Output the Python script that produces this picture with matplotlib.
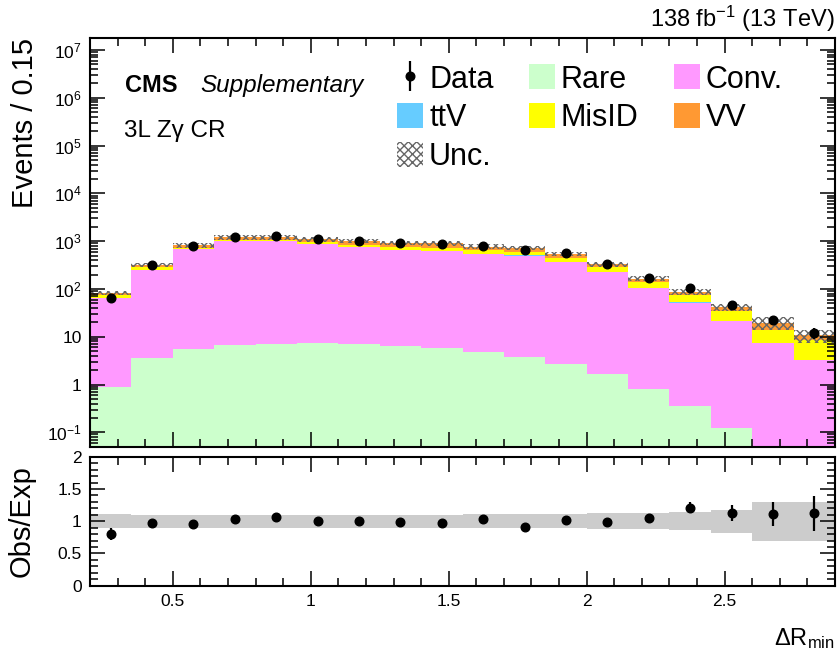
import matplotlib
matplotlib.use("Agg")
import matplotlib.pyplot as plt
import matplotlib.ticker as ticker
from matplotlib.patches import Patch
import numpy as np

plt.rcParams['font.family'] = ['Liberation Sans', 'DejaVu Sans']
plt.rcParams['mathtext.fontset'] = 'custom'
plt.rcParams['mathtext.rm'] = 'Liberation Sans'
plt.rcParams['mathtext.it'] = 'Liberation Sans:italic'
plt.rcParams['mathtext.bf'] = 'Liberation Sans:bold'
plt.rcParams['hatch.linewidth'] = 1.0

# binning: Delta R_min, 0.15 wide bins
edges = np.round(np.arange(0.2, 2.9001, 0.15), 2)

# stacked backgrounds (events / bin), bottom to top
rare = [0.89, 3.6, 5.6, 6.6, 7.0, 7.3, 7.0, 6.4, 5.9, 4.8, 3.8, 2.7, 1.64, 0.79, 0.35, 0.126, 0.0, 0.0]
conv = [64, 243, 674, 1008, 993, 845, 753, 642, 620, 529, 496, 366, 219, 104, 51.6, 21.4, 7.4, 3.2]
ttv = [0.3, 1.2, 3.0, 4.0, 4.0, 3.5, 3.0, 2.5, 2.2, 2.0, 1.6, 1.2, 0.8, 0.4, 0.2, 0.1, 0.05, 0.02]
misid = [11, 42, 42, 46, 46, 84, 62, 97, 97, 102, 78, 77, 60, 35.6, 21.8, 13.1, 6.7, 5.25]
vv = [6, 30, 87, 131, 150, 145, 175, 170, 170, 128, 128, 95, 51, 24, 12, 7, 5.6, 2.2]

data = [66, 310, 773, 1232, 1273, 1085, 1000, 908, 866, 797, 648, 553, 330, 173, 104, 47, 22, 12]
data_err = [7.4, 12, 20, 25, 25, 23, 22, 21, 20, 19, 18, 16, 11, 8, 6.9, 4.9, 3.6, 2.9]

# relative uncertainty of the total prediction
unc_up = [0.11, 0.10, 0.10, 0.10, 0.10, 0.10, 0.10, 0.10, 0.10, 0.11, 0.11, 0.11, 0.12, 0.13, 0.15, 0.17, 0.30, 0.30]
unc_down = [0.11, 0.10, 0.10, 0.10, 0.10, 0.10, 0.10, 0.10, 0.10, 0.10, 0.10, 0.10, 0.12, 0.12, 0.14, 0.18, 0.30, 0.30]

c_rare, c_conv, c_ttv, c_misid, c_vv = '#ccffcc', '#ff99ff', '#66ccff', '#ffff00', '#ff9933'
hatch_col = '#666666'

W, H = 838, 658
fig = plt.figure(figsize=(W/100, H/100), dpi=100)

def box(l, t, r, b):
    return [l/W, 1-b/H, (r-l)/W, (b-t)/H]

ax = fig.add_axes(box(90, 38.3, 835, 446.7))
rax = fig.add_axes(box(90, 456.7, 835, 585.7), sharex=ax)

centers = 0.5*(edges[:-1] + edges[1:])
floor = 1e-3

# cumulative stack, drawn from the top layer down (each filled from the floor)
layers = [(rare, c_rare), (conv, c_conv), (ttv, c_ttv), (misid, c_misid), (vv, c_vv)]
cum = np.cumsum([np.array(v, dtype=float) for v, _ in layers], axis=0)
for i in range(len(layers) - 1, -1, -1):
    ax.stairs(np.maximum(cum[i], floor), edges, baseline=floor,
              fill=True, color=layers[i][1], lw=0, antialiased=False)
total = cum[-1]

up = np.array(unc_up)
dn = np.array(unc_down)
ax.stairs(total*(1+up), edges, baseline=total*(1-dn), fill=True,
          facecolor='none', edgecolor=hatch_col, hatch='xxxx', lw=0)

h_data = ax.errorbar(centers, data, yerr=data_err, fmt='o', color='k', ms=6.2,
                     lw=1.6, capsize=0)

# ratio panel
ratio = np.array(data)/total
ratio_err = np.array(data_err)/total
rax.stairs(1+up, edges, baseline=1-dn, fill=True, color='#cccccc', lw=0, antialiased=False)
rax.errorbar(centers, ratio, yerr=ratio_err, fmt='o', color='k', ms=6.2, lw=1.6, capsize=0)

# axes styling
ax.set_yscale('log')
ax.set_ylim(0.05, 1.75e7)
ax.set_xlim(0.2, 2.9)
rax.set_ylim(0, 2)

def logfmt(v, pos):
    e = int(round(np.log10(v)))
    if e == 0:
        return '1'
    if e == 1:
        return '10'
    return r'$10^{%d}$' % e

y_major = [10.0**e for e in range(-1, 8)]
y_minor = [m * 10.0**e for e in range(-2, 8) for m in range(2, 10)
           if 0.05 <= m * 10.0**e <= 1.75e7]
ax.yaxis.set_major_locator(ticker.FixedLocator(y_major))
ax.yaxis.set_minor_locator(ticker.FixedLocator(y_minor))
ax.yaxis.set_major_formatter(ticker.FuncFormatter(logfmt))
ax.yaxis.set_minor_formatter(ticker.NullFormatter())

x_major = [0.5, 1.0, 1.5, 2.0, 2.5]
x_minor = [v for v in np.round(np.arange(0.2, 2.91, 0.1), 2) if v not in x_major]
r_major = [0.0, 0.5, 1.0, 1.5, 2.0]
r_minor = [v for v in np.round(np.arange(0.0, 2.01, 0.1), 2) if v not in r_major]

ax.xaxis.set_major_locator(ticker.FixedLocator(x_major))
ax.xaxis.set_minor_locator(ticker.FixedLocator(x_minor))
rax.xaxis.set_major_formatter(ticker.FormatStrFormatter('%g'))
rax.yaxis.set_major_locator(ticker.FixedLocator(r_major))
rax.yaxis.set_minor_locator(ticker.FixedLocator(r_minor))
rax.yaxis.set_major_formatter(ticker.FormatStrFormatter('%g'))
rax.yaxis.set_minor_formatter(ticker.NullFormatter())
rax.xaxis.set_minor_formatter(ticker.NullFormatter())
ax.tick_params(axis='x', labelbottom=False)

for a in (ax, rax):
    a.tick_params(which='both', direction='in', top=True, right=True, width=1.1,
                  labelsize=12.5, pad=6)
    a.tick_params(which='major', length=11)
    a.tick_params(which='minor', length=5.5)
    for s in a.spines.values():
        s.set_linewidth(1.5)

# legend
handles = [h_data,
           Patch(facecolor=c_ttv, lw=0),
           Patch(facecolor='white', edgecolor=hatch_col, hatch='xxxx', lw=0),
           Patch(facecolor=c_rare, lw=0),
           Patch(facecolor=c_misid, lw=0),
           Patch(facecolor=c_conv, lw=0),
           Patch(facecolor=c_vv, lw=0)]
labels = ['Data', 'ttV', 'Unc.', 'Rare', 'MisID', 'Conv.', 'VV']
ax.legend(handles, labels, ncol=3, loc='upper left',
          bbox_to_anchor=(397/W, 1-64.5/H), bbox_transform=fig.transFigure,
          frameon=False, fontsize=22, handlelength=0.85, handleheight=0.88,
          handletextpad=0.2, columnspacing=1.15, labelspacing=0.28,
          borderpad=0, borderaxespad=0)

fig.text(125/W, 1-92/H, 'CMS', weight='bold', size=17, ha='left', va='baseline')
fig.text(200/W, 1-92/H, 'Supplementary', style='italic', size=17.5, ha='left', va='baseline')
fig.text(124/W, 1-136.7/H, '3L Z\u03b3 CR', size=17.5, ha='left', va='baseline')
fig.text(835/W, 1-26.7/H, r'138 fb$^{-1}$ (13 TeV)', size=17, ha='right', va='baseline')

fig.text(11/W, 1-38/H, 'Events / 0.15', rotation=90, ha='left', va='top', size=21)
fig.text(8/W, 1-521/H, 'Obs/Exp', rotation=90, ha='left', va='center', size=21)
fig.text(835/W, 1-645/H, r'$\Delta\mathrm{R}_{\mathrm{min}}$', ha='right', va='baseline', size=17)

fig.savefig('out.png', dpi=100)
